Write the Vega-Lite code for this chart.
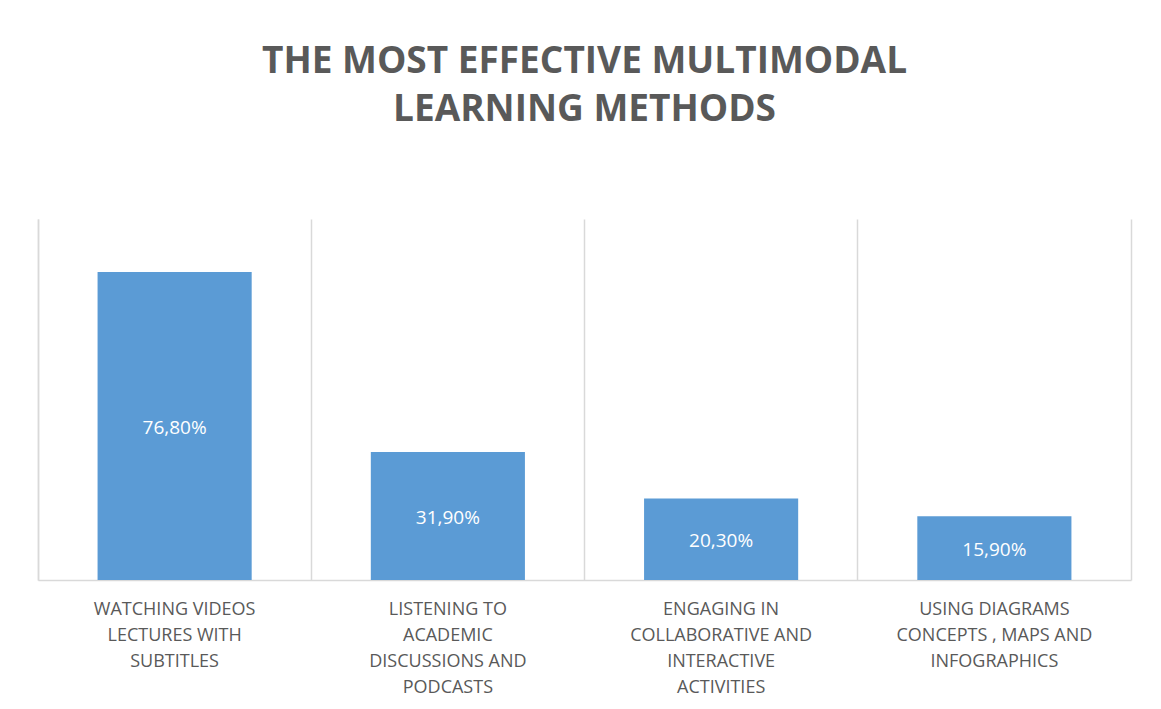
{
  "$schema": "https://vega.github.io/schema/vega-lite/v6.json",
  "width": 1093,
  "height": 361,
  "autosize": {"type": "none"},
  "padding": {"left": 38, "top": 219, "right": 30, "bottom": 129},
  "background": "white",
  "config": {
    "view": {"stroke": null},
    "font": "Open Sans",
    "locale": {"number": {"decimal": ",", "thousands": ".", "grouping": [3], "currency": ["", " €"]}}
  },
  "title": {
    "text": ["THE MOST EFFECTIVE MULTIMODAL", "LEARNING METHODS"],
    "font": "Open Sans",
    "fontSize": 37,
    "fontWeight": "bold",
    "color": "#595959",
    "lineHeight": 48,
    "anchor": "middle",
    "offset": 90
  },
  "data": {
    "values": [
      {"method": "WATCHING VIDEOS|LECTURES WITH|SUBTITLES", "value": 0.768},
      {"method": "LISTENING TO|ACADEMIC|DISCUSSIONS AND|PODCASTS", "value": 0.319},
      {"method": "ENGAGING IN|COLLABORATIVE AND|INTERACTIVE|ACTIVITIES", "value": 0.203},
      {"method": "USING DIAGRAMS|CONCEPTS , MAPS AND|INFOGRAPHICS", "value": 0.159}
    ]
  },
  "layer": [
    {
      "mark": {"type": "bar", "color": "#5b9bd5", "width": {"band": 0.564}},
      "encoding": {
        "x": {
          "field": "method", "type": "nominal", "sort": null,
          "scale": {"paddingInner": 0, "paddingOuter": 0},
          "axis": {
            "orient": "top", "title": null, "labels": false, "ticks": false, "domain": false,
            "grid": true, "gridColor": "#d9d9d9", "gridWidth": 1.5, "bandPosition": 0
          }
        },
        "y": {
          "field": "value", "type": "quantitative",
          "scale": {"domain": [0, 0.9], "nice": false},
          "axis": {"orient": "left", "title": null, "labels": false, "ticks": false, "grid": false, "domain": true, "domainColor": "#d9d9d9", "domainWidth": 1.5}
        }
      }
    },
    {
      "mark": {"type": "text", "color": "white", "fontSize": 19, "font": "Open Sans", "baseline": "middle", "align": "center", "dy": 2},
      "encoding": {
        "x": {
          "field": "method", "type": "nominal", "sort": null,
          "axis": {
            "orient": "bottom", "title": null, "ticks": false, "grid": false, "domain": true,
            "domainColor": "#d9d9d9", "domainWidth": 1.5, "labelAngle": 0,
            "labelExpr": "split(datum.label, '|')",
            "labelFont": "Open Sans", "labelFontSize": 18, "labelColor": "#595959",
            "labelLineHeight": 26, "labelBaseline": "top", "labelPadding": 20,
            "labelLimit": 0, "labelOverlap": false
          }
        },
        "y": {
          "field": "value", "type": "quantitative",
          "scale": {"domain": [0, 1.8], "nice": false},
          "axis": {"orient": "right", "title": null, "labels": false, "ticks": false, "grid": false, "domain": true, "domainColor": "#d9d9d9", "domainWidth": 1.5}
        },
        "text": {"field": "value", "type": "quantitative", "format": ".2%"}
      }
    }
  ],
  "resolve": {"scale": {"y": "independent"}, "axis": {"x": "independent", "y": "independent"}}
}
